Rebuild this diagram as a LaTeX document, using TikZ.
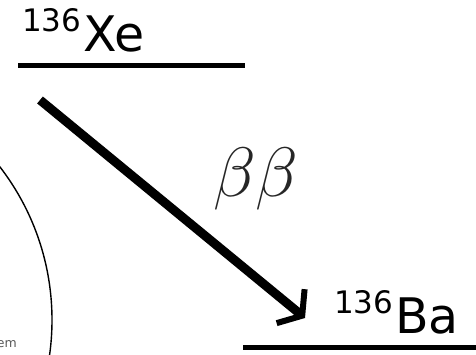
\RequirePackage{fix-cm}
\documentclass[tikz,border=0pt]{standalone}
\usepackage{fontspec}
\newfontfamily\nucfont{DejaVu Sans}
\usetikzlibrary{arrows.meta}

\newcommand{\isotope}[2]{\raisebox{20pt}{\fontsize{31}{31}\selectfont #1}\,{\fontsize{49}{52}\selectfont #2}}

\begin{document}
\begin{tikzpicture}[x=1pt,y=-1pt,font=\nucfont,
  level/.style={line width=5pt},
  nuclide/.style={inner sep=0pt,anchor=base west},
  decay/.style={line width=9pt,-{Straight Barb[length=15pt,width=44pt,line width=6pt]}}]
  \useasboundingbox (0,0) rectangle (476,355);
  \clip (0,0) rectangle (476,355);
  % part of the neighbouring sketch
  \draw[line width=1.4pt] (-199,320) circle (251);
  \node[inner sep=0pt,anchor=base east,gray!70!black,font=\nucfont\fontsize{12.5}{13}\selectfont] (cutoff) at (17,347) {em};
  % the two levels
  \draw[level] (18,66) -- (245,66);
  \draw[level] (243,347) -- (476,347);
  \node[nuclide] (xe) at (22,52) {\isotope{136}{Xe}};
  \node[nuclide] (ba) at (334,333) {\isotope{136}{Ba}};
  % double beta decay
  \coordinate (xetail) at (40,100);
  \coordinate (batip) at (305,318);
  \draw[decay] (xetail) -- (batip);
  \node[inner sep=0pt,anchor=base west,black!85,font=\fontsize{70}{72}\selectfont] (bb) at (213,197) {$\beta\beta$};
\end{tikzpicture}
\end{document}
